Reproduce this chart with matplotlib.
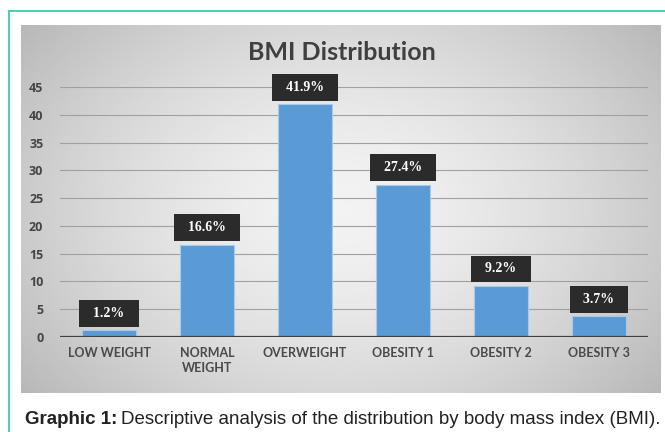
import numpy as np
import matplotlib
matplotlib.use("Agg")
import matplotlib.pyplot as plt
from matplotlib.lines import Line2D

categories = ["LOW WEIGHT", "NORMAL\nWEIGHT", "OVERWEIGHT", "OBESITY 1", "OBESITY 2", "OBESITY 3"]
values = [1.2, 16.6, 41.9, 27.4, 9.2, 3.7]
labels = ["1.2%", "16.6%", "41.9%", "27.4%", "9.2%", "3.7%"]
y_ticks = [0, 5, 10, 15, 20, 25, 30, 35, 40, 45]

W, H = 665, 432
fig = plt.figure(figsize=(W / 100, H / 100), dpi=100)
fig.patch.set_facecolor("white")

def px(x0, y0, x1, y1):
    # pixel box (top-left origin) -> figure fraction rect
    return [x0 / W, 1 - y1 / H, (x1 - x0) / W, (y1 - y0) / H]

# teal frame
teal = "#3cc9b0"
fig.add_artist(Line2D([9 / W, 9 / W], [0, 1 - 10.5 / H], transform=fig.transFigure, color=teal, lw=1.3))
fig.add_artist(Line2D([9 / W, 1], [1 - 10.5 / H, 1 - 10.5 / H], transform=fig.transFigure, color=teal, lw=1.3))

# gray gradient background of the chart image
bg = fig.add_axes(px(21, 25, 661, 393))
yy, xx = np.mgrid[-1:1:200j, -1:1:300j]
r = np.sqrt((xx * 0.95) ** 2 + (yy * 0.75) ** 2)
shade = 0.95 - 0.17 * np.clip(r, 0, 1.3) ** 1.6
bg.imshow(shade, cmap="gray", vmin=0, vmax=1, aspect="auto", interpolation="bilinear")
bg.set_axis_off()

ax = fig.add_axes(px(60, 87, 648, 337))
ax.patch.set_alpha(0)
x = np.arange(len(categories))
ax.bar(x, values, width=0.55, color="#5b9bd5", edgecolor="#a8c9ea", linewidth=0.8, zorder=3)
ax.set_xlim(-0.5, len(categories) - 0.5)
ax.set_ylim(0, 45)
ax.set_yticks(y_ticks, [str(v) for v in y_ticks])
for t in ax.get_yticklabels():
    t.set_fontproperties({"family": "Open Sans", "weight": "bold", "size": 9})
    t.set_color("#454545")
ax.yaxis.grid(True, color="#a0a0a0", lw=0.8, zorder=0)
ax.axhline(0, color="#404040", lw=1.6, zorder=4)
for s in ax.spines.values():
    s.set_visible(False)
ax.tick_params(length=0)
ax.tick_params(axis="y", pad=12)
ax.tick_params(axis="x", pad=7)
ax.set_xticks(x, categories, fontfamily="Lato", fontweight="bold", fontsize=9, color="#4a4a4a",
              linespacing=1.3)

for xi, v, lab in zip(x, values, labels):
    ax.annotate("  " + lab + "  ", (xi, v), xytext=(0, 7.5), textcoords="offset points", ha="center",
                va="bottom", fontfamily="Liberation Serif", fontweight="bold", fontsize=10, color="white",
                zorder=5, bbox=dict(boxstyle="square,pad=0.5", fc="#2b2b2b", ec="none"))

fig.text(342 / W, 1 - 52 / H, "BMI Distribution", ha="center", va="center",
         fontfamily="Lato", fontweight="bold", fontsize=18, color="#404040")

# caption
cap_y = 1 - 419 / H
t1 = fig.text(25 / W, cap_y, "Graphic 1:", ha="left", va="center", fontfamily="Liberation Sans",
              fontweight="bold", fontsize=13.5, color="#222222")
fig.canvas.draw()
bb = t1.get_window_extent(fig.canvas.get_renderer())
fig.text(bb.x1 / W + 4 / W, cap_y, "Descriptive analysis of the distribution by body mass index (BMI).",
         ha="left", va="center", fontfamily="Liberation Sans", fontsize=13.5, color="#222222")

fig.savefig("out.png", dpi=100)
